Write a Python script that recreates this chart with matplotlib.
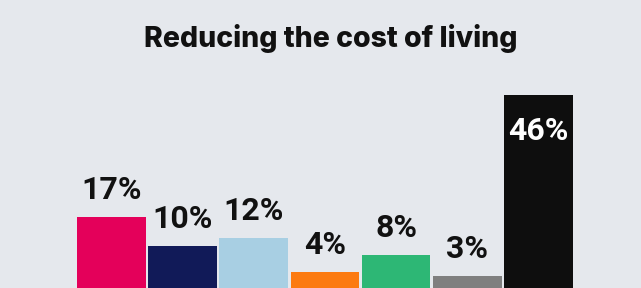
import matplotlib
matplotlib.use("Agg")
import matplotlib.pyplot as plt

title = "Reducing the cost of living"
categories = ["A", "B", "C", "D", "E", "F", "G"]
values = [17, 10, 12, 4, 8, 3, 46]
labels = ["17%", "10%", "12%", "4%", "8%", "3%", "46%"]
colors = ["#e4005a", "#111a58", "#a8cfe3", "#fc7a10", "#2db775", "#7f7f7f", "#0e0e0e"]

bg = "#e5e8ed"
fig = plt.figure(figsize=(6.41, 2.88), dpi=100, facecolor=bg)
ax = fig.add_axes([0, 0, 1, 1], facecolor=bg)

x = list(range(len(values)))
ax.bar(x, values, width=0.966, color=colors, linewidth=0)

label_font = ["Roboto", "DejaVu Sans"]
for i, (v, lab) in enumerate(zip(values, labels)):
    if v == max(values):
        ax.annotate(lab, (i, v), xytext=(0, -32.4), textcoords="offset points",
                    ha="center", va="baseline", fontsize=23, fontweight="bold",
                    color="white", family=label_font)
    else:
        ax.annotate(lab, (i, v), xytext=(0, 13), textcoords="offset points",
                    ha="center", va="baseline", fontsize=23, fontweight="bold",
                    color="#111111", family=label_font)

ax.set_xlim(-1.566, 7.443)
ax.set_ylim(0.12, 68.6)
ax.axis("off")

fig.text(331 / 641, 1 - 46.7 / 288, title, ha="center", va="baseline",
         fontsize=20.5, fontweight=800, color="#111111", family=["Inter", "DejaVu Sans"])

fig.savefig("out.png", dpi=100, facecolor=bg)
